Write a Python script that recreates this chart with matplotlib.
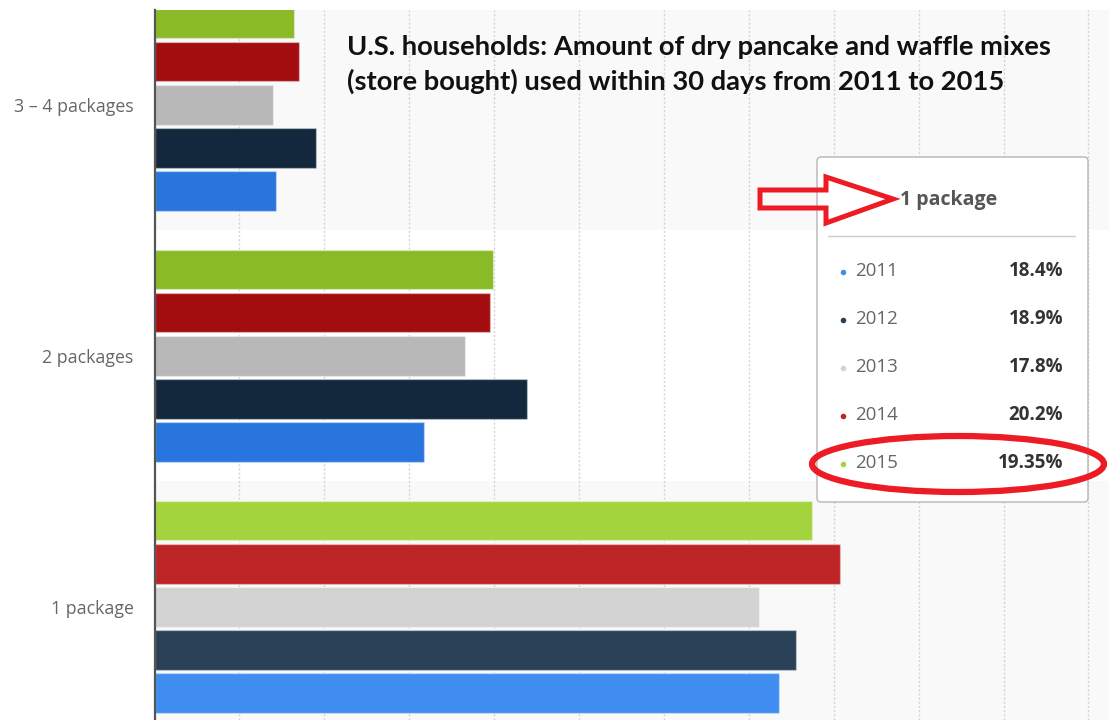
import numpy as np
import matplotlib.pyplot as plt
from matplotlib.patches import FancyBboxPatch, Ellipse, Polygon

# data (percent of households)
categories = ['1 package', '2 packages', '3 – 4 packages']
years = ['2011', '2012', '2013', '2014', '2015']
one_package = [18.4, 18.9, 17.8, 20.2, 19.35]
two_packages = [7.95, 10.97, 9.13, 9.87, 9.96]
three_four_packages = [3.57, 4.77, 3.48, 4.26, 4.12]

colors = ['#2876dd', '#13283d', '#b8b8b8', '#a30d0f', '#8aba26']
hover_colors = ['#418ef2', '#2a4057', '#d3d3d3', '#bc2426', '#a3d43e']

title_lines = ['U.S. households: Amount of dry pancake and waffle mixes',
               '(store bought) used within 30 days from 2011 to 2015']

values = [one_package, two_packages, three_four_packages]
hovered = 0  # the "1 package" group is highlighted

W, H = 1109, 720
x0 = 154.5          # pixel of the value axis
px_per_pct = 33.96
fig = plt.figure(figsize=(W / 100, H / 100), dpi=100)
ax = fig.add_axes([x0 / W, 0, 1 - x0 / W, (H - 10) / H])
ax.set_xlim(0, (W - x0) / px_per_pct)
ax.set_ylim(-0.4506, 2.378)
ax.set_facecolor('white')

# alternating category bands
for i in range(len(categories)):
    if i % 2 == 0:
        ax.axhspan(i - 0.5, i + 0.5, color='#f9f9f9', lw=0, zorder=0)

y = np.arange(len(categories))
pitch, bar_h = 0.1717, 0.157
for j, yr in enumerate(years):
    vals = [v[j] for v in values]
    cols = [hover_colors[j] if i == hovered else colors[j] for i in range(len(categories))]
    ax.barh(y + (j - 2) * pitch, vals, height=bar_h, color=cols,
            edgecolor=(1, 1, 1, 0.35), linewidth=1, zorder=3)

ax.set_xticks(np.arange(2.5, 28, 2.5))
ax.xaxis.grid(True, linestyle=(0, (1.5, 1.5)), color='#d4d4d4', lw=1, zorder=1)
ax.tick_params(axis='x', length=0, labelbottom=False)
ax.set_yticks(y, categories)
ax.tick_params(axis='y', length=0, pad=15, labelcolor='#666666', labelsize=12.8)
for lab in ax.get_yticklabels():
    lab.set_family('Open Sans')
for s in ['top', 'right', 'bottom']:
    ax.spines[s].set_visible(False)
ax.spines['left'].set_color('#555555')
ax.spines['left'].set_linewidth(1.6)
ax.spines['left'].set_zorder(4)

# overlay in pixel coordinates for the title, tooltip and hand-drawn marks
ov = fig.add_axes([0, 0, 1, 1], zorder=5)
ov.set_xlim(0, W)
ov.set_ylim(H, 0)
ov.axis('off')

ov.text(347, 47, title_lines[0], fontsize=19.7, fontweight='bold', family='Lato',
        color='#111111', va='center', ha='left')
ov.text(347, 81, title_lines[1], fontsize=19.7, fontweight='bold', family='Lato',
        color='#111111', va='center', ha='left')

# tooltip
box = FancyBboxPatch((817, 157), 271, 345, boxstyle='round,pad=0,rounding_size=4',
                     fc='white', ec='#b5b5b5', lw=1)
ov.add_patch(box)
ov.text(900, 200, categories[hovered], fontsize=14, fontweight='bold', family='Open Sans',
        color='#555555', va='center', ha='left')
ov.plot([828, 1075], [236, 236], color='#cccccc', lw=1)
for j, yr in enumerate(years):
    ry = 271.5 + j * 48
    ov.plot(843, ry, 'o', ms=4, color=hover_colors[j], mec='none')
    ov.text(855, ry, yr, fontsize=13.5, family='Open Sans', color='#666666',
            va='center', ha='left')
    ov.text(1063, ry, '{:g}%'.format(one_package[j]), fontsize=13.5, fontweight='bold',
            family='Open Sans', color='#333333', va='center', ha='right')

# red arrow and circle
arrow = Polygon([(760, 190), (826, 190), (826, 177), (893, 199), (826, 223), (826, 208), (760, 208)],
                closed=True, fill=False, ec='#ed1c24', lw=3.6, joinstyle='miter')
ov.add_patch(arrow)
ov.add_patch(Ellipse((958, 464), 292, 56, fill=False, ec='#ed1c24', lw=4.5))

fig.savefig('out.png', dpi=100)
